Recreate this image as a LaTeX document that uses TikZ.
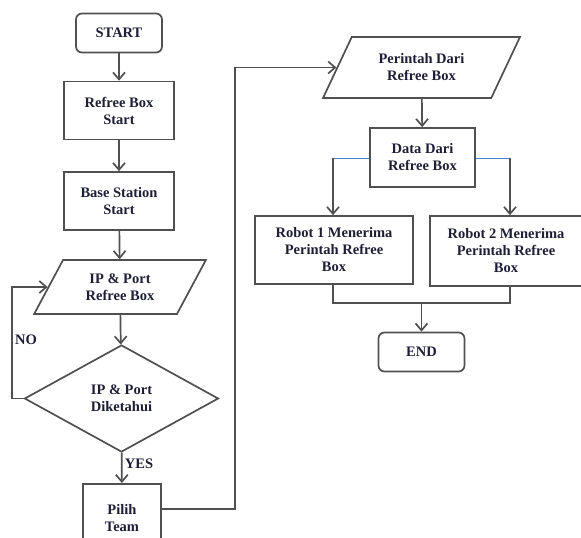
\documentclass[tikz,border=0pt]{standalone}
\usepackage{fontspec}
\setmainfont{Liberation Serif}
\usepackage{tikz}
\usetikzlibrary{shapes.geometric,arrows.meta}

\definecolor{linegray}{RGB}{80,80,80}
\definecolor{txtnavy}{RGB}{30,30,55}
\definecolor{joinblue}{RGB}{70,130,200}

\begin{document}
\begin{tikzpicture}[x=1pt,y=-1pt,
    every node/.style={font=\bfseries\fontsize{14.5}{17}\selectfont,text=txtnavy,align=center,inner sep=0pt},
    proc/.style={draw=linegray,line width=1.7pt,rectangle,minimum height=58pt},
    term/.style={draw=linegray,line width=1.7pt,rectangle,rounded corners=6pt,minimum width=86pt,minimum height=39pt},
    io/.style={draw=linegray,line width=1.7pt,trapezium,trapezium left angle=57,trapezium right angle=123,trapezium stretches=true},
    decide/.style={draw=linegray,line width=1.7pt,diamond,minimum width=194pt,minimum height=107pt},
    flow/.style={draw=linegray,line width=1.7pt,-{Straight Barb[length=7pt,width=12pt]}},
    link/.style={draw=linegray,line width=1.7pt}]
          \useasboundingbox (0,0) rectangle (581,538);

          % left column
          \node[term] (start) at (119,33) {START};
          \node[proc,minimum width=110pt] (rbstart) at (119,110.5) {Refree Box\\Start};
          \node[proc,minimum width=110pt] (bsstart) at (119,201) {Base Station\\Start};
          \node[io,minimum width=172pt,minimum height=54pt] (ip) at (120,287) {IP \& Port\\Refree Box};
          \node[decide] (known) at (121.5,398.5) {IP \& Port\\Diketahui};
          \node[proc,minimum width=78pt,minimum height=70pt,anchor=north] (team) at (122,483) {};
          \node (teamtxt) at (122,518) {Pilih\\Team};

          % right column
          \node[io,minimum width=197pt,minimum height=61pt] (cmd) at (421.5,67.5) {Perintah Dari\\Refree Box};
          \node[proc,minimum width=105pt,minimum height=59pt] (data) at (422.5,157.5) {Data Dari\\Refree Box};
          \node[proc,minimum width=158pt,minimum height=68pt] (robot1) at (334,250) {Robot 1 Menerima\\Perintah Refree\\Box};
          \node[proc,minimum width=152pt,minimum height=70pt] (robot2) at (506,251) {Robot 2 Menerima\\Perintah Refree\\Box};
          \node[term] (end) at (421.5,352) {END};

          \draw[flow] (start) -- (rbstart);
          \draw[flow] (rbstart) -- (bsstart);
          \draw[flow] (bsstart) -- (ip);
          \draw[flow] (ip) -- (known);
          \draw[flow] (known) -- (team);
          \draw[flow] (known.west) -- (12,398.5) |- (ip.west);
          \node (no) at (26,340) {NO};
          \node (yes) at (139,464) {YES};

          \coordinate (turn) at (235,509);
          \draw[flow] (team.east |- turn) -- (turn) |- (cmd.west);
          \draw[flow] (cmd) -- (data);

          % split below the data box
          \coordinate (left) at (333,158);
          \coordinate (right) at (510,158);
          \draw[joinblue,line width=0.8pt] (data.west |- left) -- (left);
          \draw[joinblue,line width=0.8pt] (data.east |- right) -- (right);
          \draw[flow] (left) -- (robot1.north -| left);
          \draw[flow] (right) -- (robot2.north -| right);

          \coordinate (merge) at (421.5,303);
          \draw[link] (robot1.south -| left) |- (merge) -| (robot2.south -| right);
          \draw[flow] (merge) -- (end);
\end{tikzpicture}
\end{document}
